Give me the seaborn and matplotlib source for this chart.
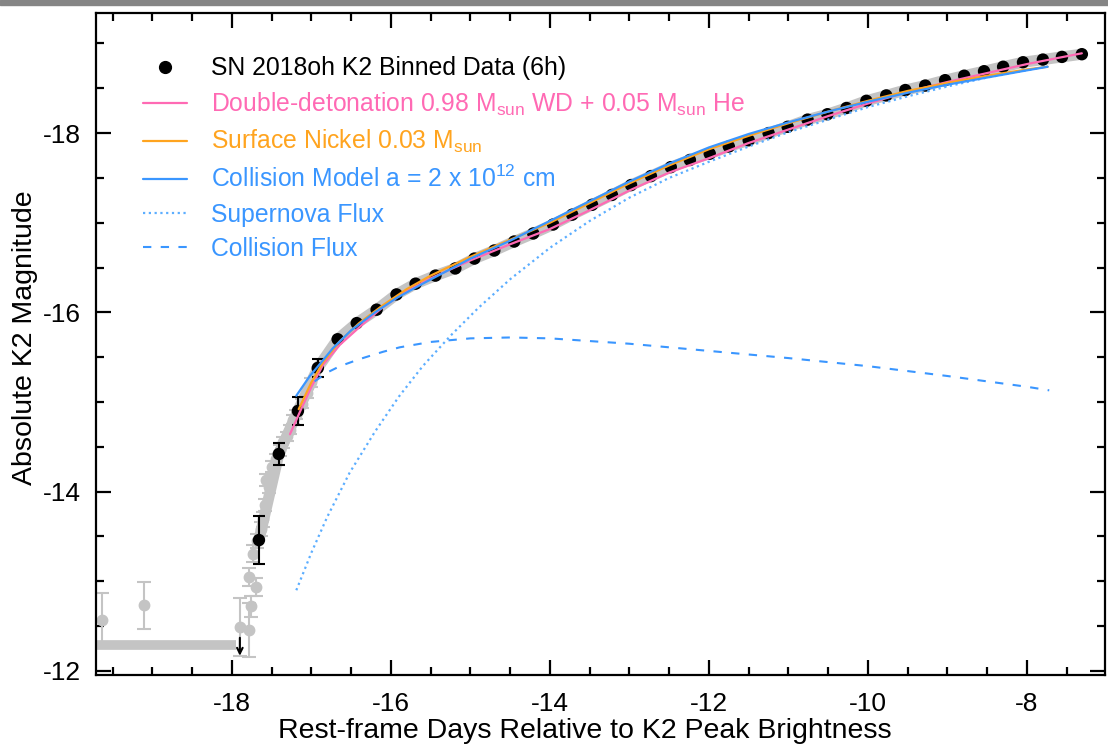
import numpy as np
import pandas as pd
import matplotlib
matplotlib.use('Agg')
import matplotlib.pyplot as plt
import seaborn as sns
from matplotlib.lines import Line2D
from matplotlib.patches import Rectangle
from matplotlib.ticker import MultipleLocator

# binned K2 data (6h)
bin_x = [-17.66, -17.41, -17.17, -16.92, -16.67, -16.43, -16.18, -15.93, -15.69, -15.44,
         -15.19, -14.95, -14.70, -14.45, -14.21, -13.96, -13.72, -13.47, -13.22, -12.98,
         -12.73, -12.48, -12.24, -11.99, -11.75, -11.50, -11.25, -11.01, -10.76, -10.51,
         -10.27, -10.02, -9.77, -9.53, -9.28, -9.03, -8.79, -8.54, -8.30, -8.05,
         -7.80, -7.56, -7.31]
bin_mag = [-13.46, -14.42, -14.90, -15.38, -15.70, -15.88, -16.03, -16.20, -16.32, -16.41,
           -16.49, -16.60, -16.69, -16.79, -16.88, -16.98, -17.09, -17.20, -17.31, -17.42,
           -17.52, -17.62, -17.70, -17.77, -17.85, -17.92, -18.00, -18.07, -18.15, -18.21,
           -18.28, -18.36, -18.42, -18.48, -18.53, -18.59, -18.64, -18.69, -18.74, -18.79,
           -18.82, -18.85, -18.88]
# error bars only visible on the first few bins, the rest are hidden under the markers
bin_err = [0.27, 0.12, 0.16, 0.10, 0.0, 0.0, 0.0, 0.0, 0.0, 0.0,
           0.0, 0.0, 0.0, 0.0, 0.0, 0.0, 0.0, 0.0, 0.0, 0.0,
           0.0, 0.0, 0.0, 0.0, 0.0, 0.0, 0.0, 0.0, 0.0, 0.0,
           0.0, 0.0, 0.0, 0.0, 0.0, 0.0, 0.0, 0.0, 0.0, 0.0,
           0.0, 0.0, 0.0]

# raw 30-min points (grey) outside the dense band
raw_x = [-19.63, -19.11, -17.90, -17.79, -17.76, -17.78, -17.70, -17.73, -17.69, -17.64,
         -17.61, -17.59, -17.57, -17.53, -17.49, -17.44, -17.40, -17.36, -17.31, -17.27,
         -17.23, -17.19, -17.12, -17.06, -17.00]
raw_mag = [-12.57, -12.73, -12.49, -12.46, -12.72, -13.05, -12.94, -13.31, -13.45, -13.58,
           -13.69, -13.85, -14.13, -14.05, -14.28, -14.36, -14.46, -14.55, -14.62, -14.69,
           -14.80, -14.86, -14.98, -15.10, -15.22]
raw_err = [0.30, 0.26, 0.32, 0.30, 0.12, 0.10, 0.10, 0.10, 0.08, 0.08,
           0.08, 0.07, 0.07, 0.07, 0.06, 0.06, 0.06, 0.06, 0.05, 0.05,
           0.05, 0.05, 0.05, 0.05, 0.05]

# pre-explosion limits
lim_x = [-19.70, -17.95]
lim_mag = [-12.29, -12.29]
arrow_x = [-17.90]
arrow_mag = [-12.37]

# models
dd_x = [-17.27, -17.15, -17.0, -16.85, -16.64, -16.39, -16.1, -15.8, -15.5, -15.0, -14.5, -14.0,
        -13.5, -13.0, -12.5, -12.0, -11.5, -11.0, -10.5, -10.0, -9.5, -9.0, -8.5, -8.0, -7.6, -7.31]
dd_mag = [-14.64, -14.88, -15.17, -15.42, -15.64, -15.84, -16.06, -16.24, -16.38, -16.58, -16.76, -16.93,
          -17.14, -17.36, -17.56, -17.72, -17.89, -18.04, -18.19, -18.33, -18.46, -18.57, -18.67, -18.77, -18.84, -18.89]

ni_x = [-17.16, -17.0, -16.85, -16.64, -16.4, -16.1, -15.8, -15.5, -15.0, -14.5, -14.0, -13.5,
        -13.0, -12.5, -12.0, -11.5, -11.0, -10.5, -10.0, -9.5, -9.0, -8.5, -8.0, -7.74]
ni_mag = [-14.92, -15.22, -15.45, -15.68, -15.88, -16.08, -16.26, -16.41, -16.62, -16.81, -17.00, -17.22,
          -17.44, -17.64, -17.82, -17.97, -18.11, -18.24, -18.36, -18.47, -18.56, -18.64, -18.71, -18.74]

col_x = [-17.19, -17.02, -16.85, -16.73, -16.5, -16.2, -15.93, -15.6, -15.3, -15.0, -14.5, -14.0, -13.5,
         -13.0, -12.5, -12.0, -11.5, -11.0, -10.5, -10.0, -9.5, -9.0, -8.5, -8.0, -7.74]
col_mag = [-15.07, -15.29, -15.47, -15.60, -15.80, -16.00, -16.16, -16.32, -16.46, -16.60, -16.80, -17.02, -17.24,
           -17.46, -17.66, -17.84, -17.99, -18.12, -18.24, -18.35, -18.45, -18.54, -18.62, -18.70, -18.74]

sn_x = [-17.19, -17.0, -16.8, -16.52, -16.2, -15.9, -15.6, -15.25, -14.9, -14.5, -14.0, -13.5,
        -13.0, -12.5, -12.0, -11.5, -11.0, -10.5, -10.0, -9.5, -9.0, -8.5, -8.0, -7.74]
sn_mag = [-12.90, -13.32, -13.72, -14.21, -14.67, -15.06, -15.40, -15.74, -16.05, -16.37, -16.72, -17.02,
          -17.28, -17.50, -17.68, -17.85, -18.01, -18.15, -18.29, -18.41, -18.52, -18.62, -18.70, -18.74]

cf_x = [-16.96, -16.8, -16.64, -16.39, -16.1, -15.89, -15.5, -15.0, -14.5, -14.0, -13.0, -12.0,
        -11.0, -10.0, -9.0, -8.0, -7.72]
cf_mag = [-15.23, -15.33, -15.40, -15.48, -15.56, -15.61, -15.67, -15.71, -15.72, -15.71, -15.65, -15.57,
          -15.49, -15.40, -15.29, -15.17, -15.13]

pink = '#ff6ab4'; orange = '#ffa41f'; blue = '#3a96ff'; lblue = '#5caeff'; grey = '#c4c4c4'

sns.set_style('ticks')
plt.rcParams['font.family'] = ['Liberation Sans', 'DejaVu Sans']
plt.rcParams['mathtext.fontset'] = 'custom'
plt.rcParams['mathtext.rm'] = 'Liberation Sans'
plt.rcParams['mathtext.it'] = 'Liberation Sans'
plt.rcParams['axes.unicode_minus'] = False
plt.rcParams['text.color'] = 'black'
plt.rcParams['axes.labelcolor'] = 'black'

fig = plt.figure(figsize = (11.08, 7.45), dpi = 100)
fig.patches.append(Rectangle((0, 1 - 5/745), 1, 5/745, transform = fig.transFigure, color = '#858585', zorder = 0))
ax = fig.add_axes([0.0866, 0.094, 0.9106, 0.8886])

# grey raw data
ax.plot(lim_x, lim_mag, color = grey, lw = 7, solid_capstyle = 'butt', zorder = 1)
ax.plot(bin_x, bin_mag, color = grey, lw = 8, solid_capstyle = 'round', zorder = 1)
ax.errorbar(raw_x, raw_mag, yerr = raw_err, fmt = 'o', ms = 7.5, color = grey, ecolor = grey,
            elinewidth = 1.5, capsize = 5, capthick = 1.5, zorder = 1.5)
for xa, ya in zip(arrow_x, arrow_mag):
    ax.annotate('', xy = (xa, ya + 0.2), xytext = (xa, ya), zorder = 3,
                arrowprops = dict(arrowstyle = '->', color = 'black', lw = 1.5, shrinkA = 0, shrinkB = 0))

# binned data
bins = pd.DataFrame({'x': bin_x, 'mag': bin_mag, 'err': bin_err})
eb = bins[bins['err'] > 0]
ax.errorbar(eb['x'], eb['mag'], yerr = eb['err'], fmt = 'none', ecolor = 'black', elinewidth = 1.5,
            capsize = 4.3, capthick = 1.5, zorder = 2)
sns.scatterplot(data = bins, x = 'x', y = 'mag', ax = ax, color = 'black', s = 80, edgecolor = 'none', zorder = 2.5)

# models
sns.lineplot(x = dd_x, y = dd_mag, ax = ax, color = pink, lw = 1.6, sort = False, estimator = None, zorder = 3)
sns.lineplot(x = ni_x, y = ni_mag, ax = ax, color = orange, lw = 1.6, sort = False, estimator = None, zorder = 3)
sns.lineplot(x = col_x, y = col_mag, ax = ax, color = blue, lw = 1.6, sort = False, estimator = None, zorder = 3.2)
sns.lineplot(x = sn_x, y = sn_mag, ax = ax, color = lblue, lw = 1.6, sort = False, estimator = None,
             linestyle = (0, (1, 1.6)), zorder = 3)
sns.lineplot(x = cf_x, y = cf_mag, ax = ax, color = blue, lw = 1.5, sort = False, estimator = None,
             linestyle = (0, (4, 4.5)), zorder = 3)

ax.set_xlim(-19.71, -7.02)
ax.set_ylim(-11.955, -19.34)
ax.xaxis.set_major_locator(MultipleLocator(2)); ax.xaxis.set_minor_locator(MultipleLocator(0.5))
ax.yaxis.set_major_locator(MultipleLocator(2)); ax.yaxis.set_minor_locator(MultipleLocator(0.5))
ax.tick_params(which = 'both', direction = 'in', top = True, right = True, width = 1.6, colors = 'black')
ax.tick_params(which = 'major', length = 11, labelsize = 19)
ax.tick_params(which = 'minor', length = 5.5)
ax.tick_params(axis = 'x', which = 'major', pad = 12)
ax.tick_params(axis = 'y', which = 'major', pad = 11)
for s in ax.spines.values():
    s.set_linewidth(1.6); s.set_color('black'); s.set_visible(True)
ax.set_xlabel('Rest-frame Days Relative to K2 Peak Brightness', fontsize = 20.5, color = 'black')
ax.set_ylabel('Absolute K2 Magnitude', fontsize = 20.5, color = 'black')
ax.xaxis.set_label_coords(0.485, -0.065)
ax.yaxis.set_label_coords(-0.057, 0.509)

handles = [Line2D([], [], ls = 'none', marker = 'o', color = 'black', ms = 8.5),
           Line2D([], [], color = pink, lw = 1.6),
           Line2D([], [], color = orange, lw = 1.6),
           Line2D([], [], color = blue, lw = 1.6),
           Line2D([], [], color = lblue, lw = 1.6, ls = (0, (1, 1.6))),
           Line2D([], [], color = blue, lw = 1.5, ls = (0, (4, 4.5)))]
labels = ['SN 2018oh K2 Binned Data (6h)',
          r'Double-detonation 0.98 M$_{\rm sun}$ WD + 0.05 M$_{\rm sun}$ He',
          r'Surface Nickel 0.03 M$_{\rm sun}$',
          r'Collision Model a = 2 x 10$^{12}$ cm',
          'Supernova Flux',
          'Collision Flux']
ax.legend(handles, labels, loc = 'upper left', bbox_to_anchor = (0.0467, 0.9346), frameon = False,
          fontsize = 17.8, handlelength = 1.78, handletextpad = 0.97, labelspacing = 0.42, borderpad = 0,
          borderaxespad = 0, labelcolor = ['black', pink, orange, blue, blue, blue])

plt.savefig('out.png', dpi = 100)
plt.close()
